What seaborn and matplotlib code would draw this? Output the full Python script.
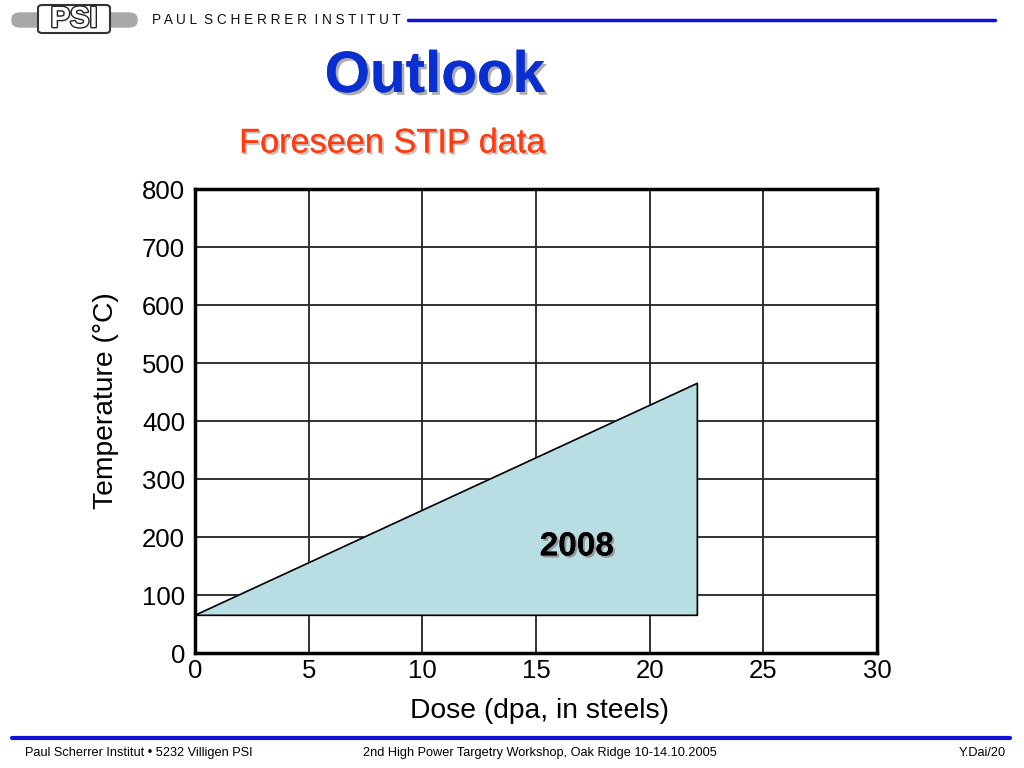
import matplotlib
matplotlib.use("Agg")
import matplotlib.pyplot as plt
import matplotlib.patheffects as pe
from matplotlib.patches import FancyBboxPatch
import seaborn as sns
import pandas as pd

# foreseen STIP region (dose, temperature)
dose = [0.0, 22.1, 22.1, 0.0]
temp = [65, 465, 65, 65]
x_ticks = [0, 5, 10, 15, 20, 25, 30]
y_ticks = [0, 100, 200, 300, 400, 500, 600, 700, 800]
label_2008 = "2008"
label_pos = (16.8, 183)

sns.set_style("white")
plt.rcParams['font.family'] = ['Liberation Sans', 'DejaVu Sans']
plt.rcParams['text.color'] = 'black'
plt.rcParams['axes.labelcolor'] = 'black'
plt.rcParams['xtick.color'] = 'black'
plt.rcParams['ytick.color'] = 'black'

fig = plt.figure(figsize=(10.24, 7.68), dpi=100)
ax = fig.add_axes([0.1904, 0.1497, 0.666, 0.6042])

df = pd.DataFrame({"dose": dose, "temp": temp})
ax.fill(df["dose"], df["temp"], color="#b8dde2", zorder=2)
sns.lineplot(data=df, x="dose", y="temp", estimator=None, sort=False,
             color="black", lw=1.2, ax=ax, zorder=3)

ax.set_xlim(0, 30)
ax.set_ylim(0, 800)
ax.set_xticks(x_ticks)
ax.set_yticks(y_ticks)
ax.grid(True, color="#222222", lw=1.3, zorder=1)
ax.set_axisbelow(True)
for s in ax.spines.values():
    s.set_linewidth(2.5)
    s.set_color("black")
ax.tick_params(labelsize=18.5, length=0, pad=4)
ax.tick_params(axis="y", pad=7)
ax.set_xlabel("Dose (dpa, in steels)", fontsize=20.3)
ax.set_ylabel("Temperature (°C)", fontsize=20.3)
ax.xaxis.set_label_coords(0.505, -0.097)
ax.yaxis.set_label_coords(-0.112, 0.545)

ax.text(label_pos[0], label_pos[1], label_2008, fontsize=24, fontweight="bold",
        ha="center", va="center", zorder=4,
        path_effects=[pe.withSimplePatchShadow(offset=(1.5, -1.5), shadow_rgbFace="#888888", alpha=0.8), pe.Normal()])

# titles
fig.text(435/1024, 1-77/768, "Outlook", fontsize=42, fontweight="bold", color="#0a2fd0",
         ha="center", va="center",
         path_effects=[pe.withSimplePatchShadow(offset=(2, -2), shadow_rgbFace="#999999", alpha=0.8), pe.Normal()])
fig.text(392/1024, 1-144/768, "Foreseen STIP data", fontsize=24.7, color="#ff3c10",
         ha="center", va="center",
         path_effects=[pe.withSimplePatchShadow(offset=(1.5, -1.5), shadow_rgbFace="#aaaaaa", alpha=0.7), pe.Normal()])

# header
fig.patches.append(FancyBboxPatch((12/1024, 1-27/768), 125/1024, 14/768,
                                  boxstyle="round,pad=0,rounding_size=0.008",
                                  transform=fig.transFigure, color="#a8a8a8", zorder=1))
fig.patches.append(FancyBboxPatch((38/1024, 1-33/768), 72/1024, 28/768,
                                  boxstyle="round,pad=0,rounding_size=0.004",
                                  transform=fig.transFigure, facecolor="white",
                                  edgecolor="#333333", lw=1.5, zorder=2))
fig.text(74/1024, 1-19/768, "PSI", fontsize=21, fontweight="bold", color="white",
         ha="center", va="center", zorder=3,
         path_effects=[pe.withStroke(linewidth=2, foreground="#222222")])
fig.text(152/1024, 1-20/768, " ".join("PAUL") + "  " + " ".join("SCHERRER") + "  " + " ".join("INSTITUT"),
         fontsize=9.8, color="#111111", ha="left", va="center")
fig.add_artist(plt.Line2D([408/1024, 995/1024], [1-20/768, 1-20/768], color="#1010d8", lw=2.5))

# footer
fig.add_artist(plt.Line2D([12/1024, 1010/1024], [1-738/768, 1-738/768], color="#1010d8", lw=3))
fig.text(25/1024, 1-753/768, "Paul Scherrer Institut • 5232 Villigen PSI", fontsize=9.2, ha="left", va="center")
fig.text(540/1024, 1-753/768, "2nd High Power Targetry Workshop, Oak Ridge 10-14.10.2005", fontsize=9.2, ha="center", va="center")
fig.text(1006/1024, 1-753/768, "Y.Dai/20", fontsize=9.2, ha="right", va="center")

fig.savefig("out.png", dpi=100)
